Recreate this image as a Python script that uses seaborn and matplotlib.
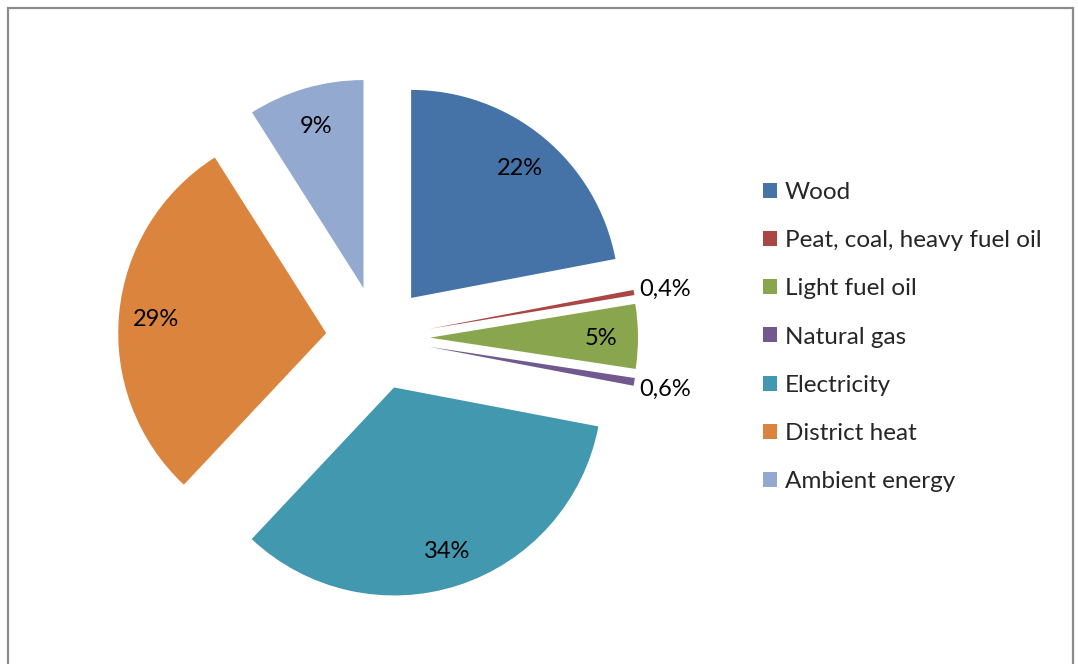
import numpy as np
import matplotlib
matplotlib.use("Agg")
import matplotlib.pyplot as plt
from matplotlib.patches import Rectangle
import seaborn as sns

# Energy sources and their shares (%)
categories = ["Wood", "Peat, coal, heavy fuel oil", "Light fuel oil", "Natural gas",
              "Electricity", "District heat", "Ambient energy"]
shares = [22, 0.4, 5, 0.6, 34, 29, 9]
colors = ["#4572A7", "#AA4643", "#89A54E", "#71588F", "#4198AF", "#DB843D", "#93A9CF"]

sns.set_theme(style="white")
plt.rcParams["font.family"] = ["Lato", "DejaVu Sans"]

W, H = 1078, 664
fig = plt.figure(figsize=(W / 100, H / 100), dpi=100)
fig.patch.set_facecolor("white")

# chart frame (runs off the bottom edge)
fig.add_artist(Rectangle((7.5 / W, -0.05), (1072.5 - 7.5) / W, 1.05 - 7.5 / H,
                         transform=fig.transFigure, fill=False,
                         edgecolor="#8c8c8c", linewidth=1.6))

cx, cy, r_px = 378, 664 - 338, 208
half = 1.5 * r_px
ax = fig.add_axes([(cx - half) / W, (cy - half) / H, 2 * half / W, 2 * half / H])

palette = sns.color_palette(colors)
wedges, _ = ax.pie(shares, colors=palette, startangle=90, counterclock=False,
                   explode=[0.25] * len(shares), radius=1,
                   wedgeprops=dict(linewidth=0))
ax.set_xlim(-1.5, 1.5)
ax.set_ylim(-1.5, 1.5)
ax.set_aspect("equal")
ax.axis("off")

# percentage labels
for w, v in zip(wedges, shares):
    mid = np.deg2rad((w.theta1 + w.theta2) / 2)
    dist = 0.82 if v >= 3 else 1.15
    x0, y0 = w.center
    txt = f"{v:g}%".replace(".", ",")
    ax.text(x0 + dist * np.cos(mid), y0 + dist * np.sin(mid), txt,
            ha="center", va="center_baseline", fontsize=17, color="#000000")

fig.legend(wedges, categories, loc="center left",
           bbox_to_anchor=(763 / W, 1 - 337 / H), frameon=False,
           fontsize=17.5, handlelength=0.58, handleheight=0.58,
           handletextpad=0.33, labelspacing=1.12, borderpad=0, borderaxespad=0)

fig.savefig("out.png", dpi=100, facecolor="white")
